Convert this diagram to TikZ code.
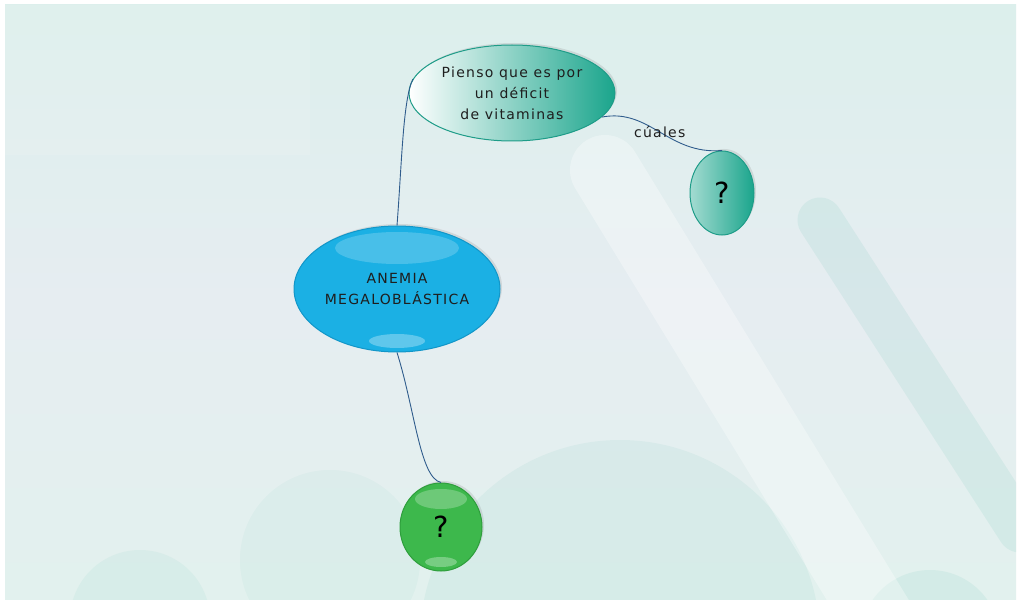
\documentclass[tikz,border=0pt]{standalone}
\usepackage{fontspec}
\setmainfont{DejaVu Sans}
\newfontfamily\wfont[LetterSpace=9]{DejaVu Sans}
\usetikzlibrary{shapes.geometric,shadows}
\definecolor{bgtop}{HTML}{DCEFEC}
\definecolor{bgmid}{HTML}{E6EDF1}
\definecolor{bgbot}{HTML}{E2F1EE}
\definecolor{tealA}{HTML}{1AA58C}
\definecolor{tealB}{HTML}{1E9C88}
\definecolor{blueA}{HTML}{1BB0E4}
\definecolor{blueB}{HTML}{1296C8}
\definecolor{greenA}{HTML}{3DB84C}
\definecolor{greenB}{HTML}{2E9E3C}
\definecolor{linec}{HTML}{2F5C8C}
\definecolor{txt}{HTML}{1E1E1E}
\tikzset{
  bubble/.style={ellipse, inner sep=0pt, draw, line width=1pt, align=center, text=txt,
    drop shadow={shadow xshift=2pt, shadow yshift=2pt, opacity=0.2}},
  conn/.style={draw=linec, line width=0.9pt},
  qmark/.style={font=\fontsize{29}{30}\selectfont, text=black},
  lbl/.style={text=txt, align=center, font=\wfont\fontsize{14}{21}\selectfont},
}
\begin{document}
\begin{tikzpicture}[x=1pt,y=-1pt]
\useasboundingbox (0,0) rectangle (1020,604);
\fill[white] (0,0) rectangle (1020,604);
\begin{scope}
\clip (5,5) rectangle (1016,599);
\shade[top color=bgtop, bottom color=bgbot, middle color=bgmid] (5,5) rectangle (1016,599);
\fill[white, opacity=0.1] (5,5) rectangle (310,155);
\fill[tealA, opacity=0.06] (620,640) circle (200);
\fill[tealA, opacity=0.05] (140,620) circle (70);
\fill[tealA, opacity=0.04] (330,560) circle (90);
\fill[tealA, opacity=0.07] (930,640) circle (70);
\draw[white, opacity=0.32, line width=70pt, line cap=round] (605,170) -- (880,620);
\draw[tealA, opacity=0.08, line width=45pt, line cap=round] (820,220) -- (1020,530);
\end{scope}

% nodes
\node[bubble, draw=tealB, minimum width=206, minimum height=96,
  left color=white, right color=tealA, font=\wfont\fontsize{14}{21}\selectfont]
  (top) at (512,93) {Pienso que es por\\un déficit\\de vitaminas};
\node[bubble, draw=tealB, minimum width=64, minimum height=84,
  left color=white!60!tealA, right color=tealA] (small) at (722,193) {};
\node[qmark] at (small) {?};
\node[bubble, draw=blueB, minimum width=206, minimum height=126, fill=blueA] (blue) at (397,289) {};
\fill[white, opacity=0.2] (397,248) ellipse (62 and 16);
\fill[white, opacity=0.3] (397,341) ellipse (28 and 7);
\node[lbl] at (blue) {ANEMIA\\MEGALOBLÁSTICA};
\node[bubble, draw=greenB, minimum width=82, minimum height=88, fill=greenA] (green) at (441,527) {};
\fill[white, opacity=0.25] (441,499) ellipse (26 and 10);
\fill[white, opacity=0.3] (441,562) ellipse (16 and 5);
\node[qmark] at (green) {?};

% connectors
\draw[conn] (blue.north) .. controls (402,160) and (403,100) .. (top.172);
\draw[conn] (top.345) .. controls (650,108) and (668,155) ..
  node[pos=0.5, anchor=center, lbl] {cúales} (small.north);
\draw[conn] (blue.south) .. controls (415,410) and (420,478) .. (green.north);
\end{tikzpicture}
\end{document}
